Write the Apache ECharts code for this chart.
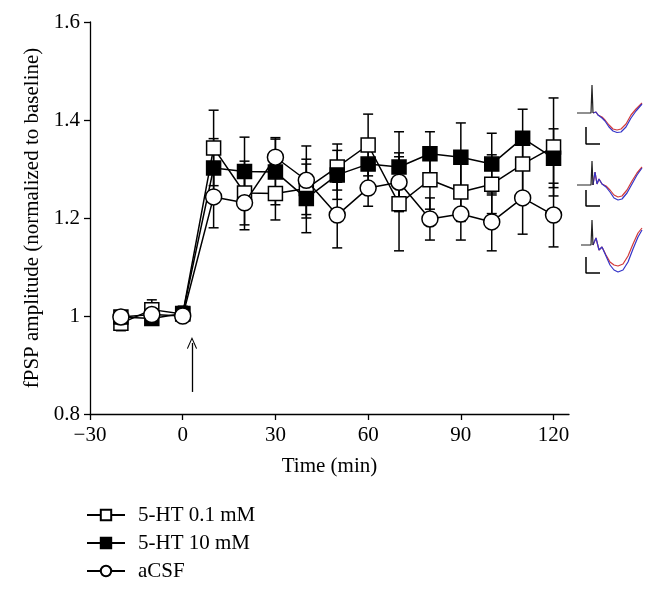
<!DOCTYPE html>
<html>
<head>
<meta charset="utf-8">
<script src="https://cdn.jsdelivr.net/npm/echarts@6/dist/echarts.min.js"></script>
<style>html,body{margin:0;padding:0;background:#fff;}#c{width:658px;height:590px;}</style>
</head>
<body>
<div id="c"></div>
<script>
// ---- data ----
var times = [-20, -10, 0, 10, 20, 30, 40, 50, 60, 70, 80, 90, 100, 110, 120];
var ht01 = [0.985, 1.013, 1.004, 1.343, 1.251, 1.250, 1.260, 1.304, 1.349, 1.229, 1.278, 1.253, 1.269, 1.310, 1.345];
var ht01Err = [0.015, 0.020, 0.015, 0.077, 0.065, 0.054, 0.060, 0.047, 0.063, 0.096, 0.060, 0.060, 0.060, 0.060, 0.100];
var ht10 = [0.998, 0.995, 1.005, 1.302, 1.295, 1.294, 1.240, 1.288, 1.310, 1.304, 1.331, 1.324, 1.310, 1.363, 1.322];
var ht10Err = [0.010, 0.010, 0.015, 0.060, 0.070, 0.067, 0.070, 0.050, 0.050, 0.072, 0.045, 0.070, 0.063, 0.059, 0.060];
var acsf = [0.998, 1.003, 1.000, 1.243, 1.231, 1.324, 1.277, 1.206, 1.261, 1.273, 1.198, 1.208, 1.192, 1.241, 1.206];
var acsfErr = [0.012, 0.010, 0.010, 0.063, 0.055, 0.040, 0.070, 0.067, 0.037, 0.060, 0.043, 0.053, 0.059, 0.074, 0.065];
var seriesNames = ['5-HT 0.1 mM', '5-HT 10 mM', 'aCSF'];
var xTicks = [-30, 0, 30, 60, 90, 120];
var yTicks = [0.8, 1.0, 1.2, 1.4, 1.6];
var arrowTime = [3, 3];
var arrowLevels = [0.845, 0.945];

// inset traces (inset units)
var trace1Black = [[7,167],[21,167],[22,195],[23,167]];
var trace1Red = [[23,167],[26,168],[28,165],[30,166],[32,163],[35,160],[39,155],[43,151],[47,150],[51,151],[56,156],[61,165],[66,171],[72,177]];
var trace1Blue = [[23,167],[26,168],[28,165],[30,166],[32,162],[35,159],[39,153],[43,149],[47,147.5],[51,148],[56,153],[61,162],[66,169],[72,176]];
var scale1 = [[16,153],[16,136],[30,136]];
var trace2Black = [[7,95],[21,95],[22,119],[23,95]];
var trace2Red = [[23,95],[25,108],[27,96],[29,101],[32,96],[36,94],[40,90],[44,85],[48,83],[52,84],[57,90],[62,99],[67,107],[72,113]];
var trace2Blue = [[23,95],[25,108],[27,96],[29,101],[32,96],[36,93],[40,88],[44,82],[48,80],[52,81],[57,87],[62,96],[67,105],[72,112]];
var scale2 = [[16,90],[16,74],[30,74]];
var trace3Black = [[11,35],[21,35],[22,60],[23,35]];
var trace3Red = [[23,35],[26,42],[29,30],[32,33],[36,25],[40,18],[44,15],[48,14],[53,16],[58,24],[63,36],[68,47],[72,52]];
var trace3Blue = [[23,35],[26,42],[29,30],[32,33],[36,24],[40,15],[44,10],[48,8],[53,10],[58,18],[63,31],[68,43],[72,50]];
var scale3 = [[16,23],[16,7],[30,7]];

// ---- build ----
var FONT = 'Liberation Serif';
var FS = 21;
function pairs(vals) { return times.map(function (t, i) { return [t, vals[i]]; }); }
function errData(vals, errs) { return times.map(function (t, i) { return [t, vals[i], errs[i]]; }); }

function errSeries(vals, errs) {
  return {
    type: 'custom', xAxisIndex: 0, yAxisIndex: 0, z: 1, silent: true,
    data: errData(vals, errs),
    renderItem: function (params, api) {
      var x = api.value(0), y = api.value(1), e = api.value(2);
      var top = api.coord([x, y + e]), bot = api.coord([x, y - e]);
      var w = 5;
      var st = { stroke: '#000', lineWidth: 1.5 };
      return { type: 'group', children: [
        { type: 'line', shape: { x1: top[0], y1: top[1], x2: bot[0], y2: bot[1] }, style: st },
        { type: 'line', shape: { x1: top[0] - w, y1: top[1], x2: top[0] + w, y2: top[1] }, style: st },
        { type: 'line', shape: { x1: bot[0] - w, y1: bot[1], x2: bot[0] + w, y2: bot[1] }, style: st }
      ]};
    }
  };
}

function mainLine(name, vals, symbol, fill, size, z) {
  return {
    name: name, type: 'line', xAxisIndex: 0, yAxisIndex: 0, z: z,
    data: pairs(vals), symbol: symbol, symbolSize: size, showAllSymbol: true,
    lineStyle: { color: '#000', width: 1.5 },
    itemStyle: { color: fill, borderColor: '#000', borderWidth: 1.5, opacity: 1 },
    emphasis: { disabled: true }, animation: false
  };
}

function insetLine(data, color, w) {
  return {
    type: 'line', xAxisIndex: 1, yAxisIndex: 1, data: data, symbol: 'none',
    lineStyle: { color: color, width: w || 1.2 }, silent: true, animation: false, z: 3
  };
}

var acsfLine = mainLine(seriesNames[2], acsf, 'circle', '#fff', 16, 6);
acsfLine.markLine = {
  silent: true, animation: false,
  lineStyle: { color: '#000', width: 1.3, type: 'solid' },
  label: { show: false },
  data: [[
    { coord: [arrowTime[0], arrowLevels[0]], symbol: 'none' },
    { coord: [arrowTime[1], arrowLevels[1]], symbol: 'path://M0,10 L5,0 L10,10 L9.2,10.6 L5,2.2 L0.8,10.6 Z', symbolSize: [10, 12] }
  ]]
};

var option = {
  backgroundColor: '#fff',
  animation: false,
  textStyle: { fontFamily: FONT },
  grid: [
    { left: 90, top: 22, width: 479, height: 392 },
    { left: 570, top: 70, width: 80, height: 210 }
  ],
  xAxis: [
    {
      type: 'value', gridIndex: 0, min: -30, max: 125, interval: 30,
      name: 'Time (min)', nameLocation: 'middle', nameGap: 42,
      nameTextStyle: { fontFamily: FONT, fontSize: FS, color: '#000' },
      axisLine: { show: true, onZero: false, lineStyle: { color: '#000', width: 1.3 } },
      axisTick: { show: true, inside: false, length: 6, customValues: xTicks, lineStyle: { color: '#000', width: 1.3 } },
      axisLabel: { customValues: xTicks, fontFamily: FONT, fontSize: FS, color: '#000', margin: 11,
        formatter: function (v) { return v < 0 ? '\u2212' + Math.abs(v) : String(v); } },
      splitLine: { show: false }
    },
    { type: 'value', gridIndex: 1, min: 0, max: 80, show: false }
  ],
  yAxis: [
    {
      type: 'value', gridIndex: 0, min: 0.8, max: 1.6, interval: 0.2,
      name: 'fPSP amplitude (normalized to baseline)', nameLocation: 'middle', nameGap: 46,
      nameTextStyle: { fontFamily: FONT, fontSize: FS, color: '#000' },
      axisLine: { show: true, onZero: false, lineStyle: { color: '#000', width: 1.3 } },
      axisTick: { show: true, length: 6, customValues: yTicks, lineStyle: { color: '#000', width: 1.3 } },
      axisLabel: { customValues: yTicks, fontFamily: FONT, fontSize: FS, color: '#000', margin: 10,
        formatter: function (v) { return String(Math.round(v * 10) / 10); } },
      splitLine: { show: false }
    },
    { type: 'value', gridIndex: 1, min: 0, max: 210, show: false }
  ],
  legend: {
    data: seriesNames, orient: 'vertical', left: 86, top: 504, height: 90, padding: 0,
    itemWidth: 38, itemHeight: 13, itemGap: 6,
    textStyle: { fontFamily: FONT, fontSize: FS, color: '#000', lineHeight: 22, padding: [0, 0, 0, 8] },
    selectedMode: false
  },
  series: [
    errSeries(ht01, ht01Err),
    errSeries(ht10, ht10Err),
    errSeries(acsf, acsfErr),
    mainLine(seriesNames[0], ht01, 'rect', '#fff', 14, 4),
    mainLine(seriesNames[1], ht10, 'rect', '#000', 14, 5),
    acsfLine,
    insetLine(trace1Red, '#d23a3a'), insetLine(trace1Blue, '#3434c8'), insetLine(trace1Black, '#222'), insetLine(scale1, '#000', 1.5),
    insetLine(trace2Red, '#d23a3a'), insetLine(trace2Blue, '#3434c8'), insetLine(trace2Black, '#222'), insetLine(scale2, '#000', 1.5),
    insetLine(trace3Red, '#d23a3a'), insetLine(trace3Blue, '#3434c8'), insetLine(trace3Black, '#222'), insetLine(scale3, '#000', 1.5)
  ]
};

var chart = echarts.init(document.getElementById('c'), null, { renderer: 'canvas' });
chart.setOption(option);
</script>
</body>
</html>
